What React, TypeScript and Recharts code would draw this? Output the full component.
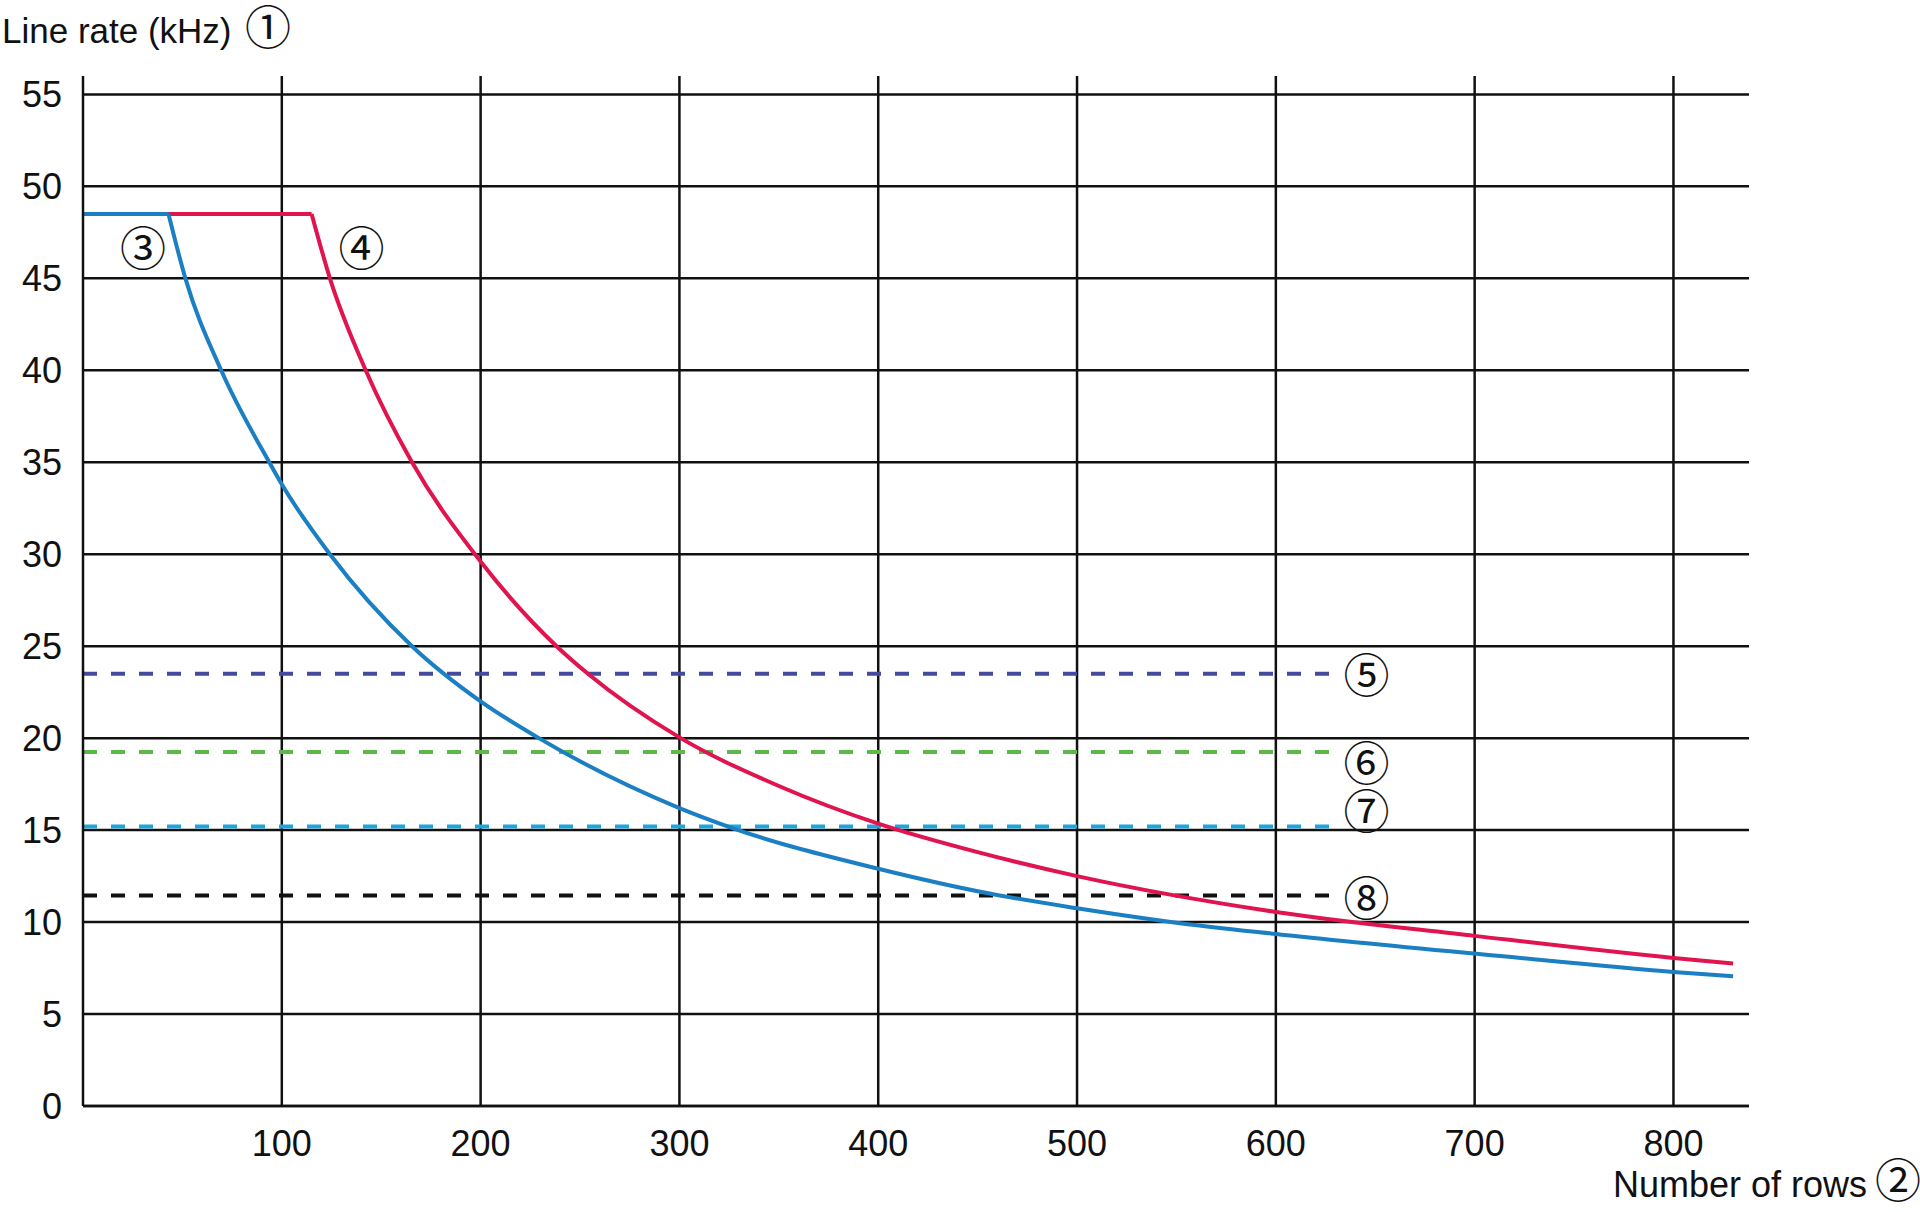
import React from 'react';
import { ComposedChart, Line, XAxis, YAxis, CartesianGrid, ReferenceLine, ReferenceDot } from 'recharts';

const W = 1920;
const H = 1212;

const FONT = '"Liberation Sans", Arial, sans-serif';
const TAG_FONT = '"Noto Sans CJK JP", "DejaVu Sans", sans-serif';
const INK = '#111111';

// axis ticks
const rowTicks = [100, 200, 300, 400, 500, 600, 700, 800];
const rateTicks = [0, 5, 10, 15, 20, 25, 30, 35, 40, 45, 50, 55];

// curve 3 (blue): flat section, then falling section
const blueFlatRows = [0, 43];
const blueFlatRate = [48.5, 48.5];
const blueRows = [43, 51.5, 69.5, 93.7, 100, 124.2, 165.5, 200, 229.3, 300, 327, 400, 456, 500, 549, 600, 713, 800, 830];
const blueRate = [48.5, 45, 40, 35, 33.8, 30, 25, 22.0, 20, 16.2, 15.1, 12.9, 11.55, 10.75, 9.98, 9.35, 8.15, 7.29, 7.06];

// curve 4 (red)
const redFlatRows = [0, 115];
const redFlatRate = [48.5, 48.5];
const redRows = [115, 124.2, 142.2, 165.5, 200, 238.2, 254, 300, 350, 400, 450, 500, 600, 700, 800, 830];
const redRate = [48.5, 45, 40, 35, 29.6, 25, 23.5, 20.04, 17.4, 15.35, 13.8, 12.5, 10.55, 9.25, 8.05, 7.75];

// dashed limit lines 5..8
const limitTags = ['⑤', '⑥', '⑦', '⑧'];
const limitRates = [23.5, 19.25, 15.2, 11.45];
const limitColors = ['#444b9e', '#5cb848', '#1ea6dc', '#111111'];
const limitEndRow = 631;
// vertical nudge of each circled tag relative to its line (px)
const limitTagDy = [-2, 8, -18, 0];

// circled tags for the two curves, placed in data units
const curveTags = ['③', '④'];
const curveTagRows = [30.2, 140.1];
const curveTagRates = [46.8, 46.8];

const toPoints = (rows: number[], rates: number[]) => rows.map((r, i) => ({ rows: r, rate: rates[i] }));

const blueFlat = toPoints(blueFlatRows, blueFlatRate);
const blueCurve = toPoints(blueRows, blueRate);
const redFlat = toPoints(redFlatRows, redFlatRate);
const redCurve = toPoints(redRows, redRate);

const BLUE = '#1a7fc3';
const RED = '#e0144f';

const Tag = ({ x, y, text }: { x: number; y: number; text: string }) => (
  <text
    x={x}
    y={y}
    textAnchor="middle"
    dominantBaseline="central"
    fontFamily={TAG_FONT}
    fontSize={46}
    fill={INK}
  >
    {text}
  </text>
);

export default function App() {
  return (
    <div style={{ position: 'absolute', left: 0, top: 0, width: W, height: H, background: '#fff' }}>
      <ComposedChart width={W} height={H} margin={{ top: 76, right: 171, bottom: 0, left: 0 }}>
        <CartesianGrid stroke={INK} strokeWidth={2.5} syncWithTicks />
        <XAxis
          type="number"
          dataKey="rows"
          domain={[0, 838]}
          ticks={rowTicks}
          allowDataOverflow
          height={106}
          tickSize={0}
          tickMargin={24}
          tickLine={false}
          axisLine={{ stroke: INK, strokeWidth: 2.5 }}
          tick={{ fill: INK, fontSize: 36, fontFamily: FONT }}
        />
        <YAxis
          type="number"
          dataKey="rate"
          domain={[0, 56]}
          ticks={rateTicks}
          allowDataOverflow
          width={83}
          tickSize={0}
          tickMargin={21}
          tickLine={false}
          axisLine={{ stroke: INK, strokeWidth: 2.5 }}
          tick={{ fill: INK, fontSize: 36, fontFamily: FONT }}
        />

        {limitRates.map((rate, i) => (
          <ReferenceLine
            key={limitTags[i]}
            segment={[{ x: 0, y: rate }, { x: limitEndRow, y: rate }]}
            stroke={limitColors[i]}
            strokeWidth={4}
            strokeDasharray="14 14"
            label={{
              content: (props: any) => {
                const vb = props.viewBox || {};
                return <Tag x={vb.x + vb.width + 29} y={vb.y + limitTagDy[i]} text={limitTags[i]} />;
              },
            }}
          />
        ))}

        <Line data={redFlat} dataKey="rate" type="linear" stroke={RED} strokeWidth={4} dot={false} isAnimationActive={false} />
        <Line data={redCurve} dataKey="rate" type="monotone" stroke={RED} strokeWidth={4} dot={false} isAnimationActive={false} />
        <Line data={blueFlat} dataKey="rate" type="linear" stroke={BLUE} strokeWidth={4} dot={false} isAnimationActive={false} />
        <Line data={blueCurve} dataKey="rate" type="monotone" stroke={BLUE} strokeWidth={4} dot={false} isAnimationActive={false} />

        {curveTags.map((t, i) => (
          <ReferenceDot
            key={t}
            x={curveTagRows[i]}
            y={curveTagRates[i]}
            r={0}
            fill="none"
            stroke="none"
            label={{
              content: (props: any) => {
                const vb = props.viewBox || {};
                return <Tag x={vb.x + (vb.width || 0) / 2} y={vb.y + (vb.height || 0) / 2} text={t} />;
              },
            }}
          />
        ))}
      </ComposedChart>

      {/* axis titles */}
      <svg width={W} height={H} style={{ position: 'absolute', left: 0, top: 0, pointerEvents: 'none' }}>
        <text x={2} y={43} fontFamily={FONT} fontSize={35} fill={INK}>
          Line rate (kHz)
        </text>
        <Tag x={268} y={24} text="①" />
        <text x={1613} y={1197} fontFamily={FONT} fontSize={36} fill={INK}>
          Number of rows
        </text>
        <Tag x={1898} y={1177} text="②" />
      </svg>
    </div>
  );
}
